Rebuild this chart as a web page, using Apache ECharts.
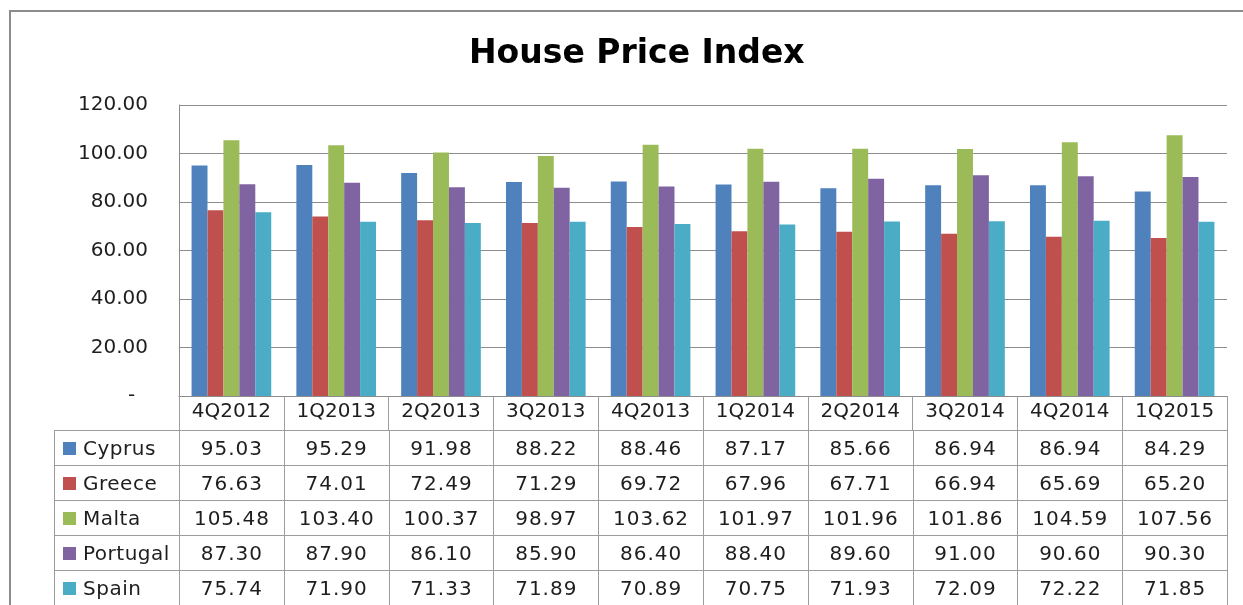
<!DOCTYPE html>
<html>
<head>
<meta charset="utf-8">
<script src="https://cdn.jsdelivr.net/npm/echarts@6/dist/echarts.min.js"></script>
<style>
  html, body { margin: 0; padding: 0; overflow: hidden; background: #fff; }
  #frame { position: absolute; left: 9px; top: 10px; width: 1300px; height: 700px; border: 2px solid #8c8c8c; }
  #chart { position: absolute; left: 0; top: 0; width: 1243px; height: 605px; }
  #table { position: absolute; left: 54px; top: 430px; width: 1174px; border-collapse: collapse; table-layout: fixed;
           font-family: 'DejaVu Sans', sans-serif; font-size: 20px; letter-spacing: 1px; color: #1e1e1e; }
  #table td { border: 1px solid #9c9c9c; height: 34px; padding: 0; text-align: center; white-space: nowrap; }
  #table td.name { text-align: left; padding-left: 8px; letter-spacing: 0.5px; }
  #table .key { display: inline-block; width: 13px; height: 13px; margin-right: 7px; vertical-align: 0px; }
</style>
</head>
<body>
<div id="frame"></div>
<div id="chart"></div>
<table id="table"></table>
<script>
const categories = ['4Q2012', '1Q2013', '2Q2013', '3Q2013', '4Q2013', '1Q2014', '2Q2014', '3Q2014', '4Q2014', '1Q2015'];
const cyprus   = [95.03, 95.29, 91.98, 88.22, 88.46, 87.17, 85.66, 86.94, 86.94, 84.29];
const greece   = [76.63, 74.01, 72.49, 71.29, 69.72, 67.96, 67.71, 66.94, 65.69, 65.20];
const malta    = [105.48, 103.40, 100.37, 98.97, 103.62, 101.97, 101.96, 101.86, 104.59, 107.56];
const portugal = [87.30, 87.90, 86.10, 85.90, 86.40, 88.40, 89.60, 91.00, 90.60, 90.30];
const spain    = [75.74, 71.90, 71.33, 71.89, 70.89, 70.75, 71.93, 72.09, 72.22, 71.85];

const seriesNames = ['Cyprus', 'Greece', 'Malta', 'Portugal', 'Spain'];
const seriesData = [cyprus, greece, malta, portugal, spain];
const colors = ['#4f81bd', '#c0504d', '#9bbb59', '#8064a2', '#4bacc6'];

const font = 'DejaVu Sans';
const chart = echarts.init(document.getElementById('chart'));
chart.setOption({
  animation: false,
  title: {
    text: 'House Price Index',
    left: 464,
    top: 33,
    textStyle: { fontFamily: font, fontSize: 33, fontWeight: 'bold', color: '#000' }
  },
  grid: { left: 179, right: 16, top: 105, bottom: 209 },
  xAxis: {
    type: 'category',
    data: categories,
    axisLine: { lineStyle: { color: '#8c8c8c' } },
    axisTick: { show: true, length: 34, lineStyle: { color: '#9c9c9c' } },
    axisLabel: { margin: 6, fontFamily: font, fontSize: 20, color: '#1e1e1e' }
  },
  yAxis: {
    type: 'value',
    min: 0,
    max: 120,
    interval: 20,
    axisLine: { show: true, lineStyle: { color: '#8c8c8c' } },
    axisTick: { show: false },
    splitLine: { lineStyle: { color: '#8c8c8c' } },
    axisLabel: {
      margin: 31,
      fontFamily: font,
      fontSize: 20,
      color: '#1e1e1e',
      formatter: v => v === 0 ? '-  ' : v.toFixed(2)
    }
  },
  series: seriesNames.map((name, i) => ({
    name,
    type: 'bar',
    data: seriesData[i],
    barGap: '0%',
    barCategoryGap: '24%',
    itemStyle: { color: colors[i] }
  }))
});

// data table under the plot, built from the same arrays
const table = document.getElementById('table');
let html = '<colgroup><col style="width:125px">' + categories.map(() => '<col>').join('') + '</colgroup>';
seriesNames.forEach((name, i) => {
  html += '<tr><td class="name"><span class="key" style="background:' + colors[i] + '"></span>' + name + '</td>';
  seriesData[i].forEach(v => { html += '<td>' + v.toFixed(2) + '</td>'; });
  html += '</tr>';
});
table.innerHTML = html;
</script>
</body>
</html>
